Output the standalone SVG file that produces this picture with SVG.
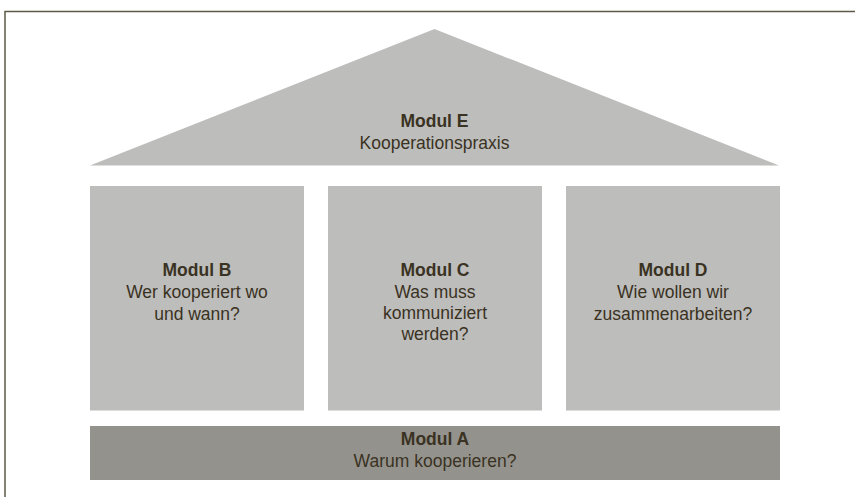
<svg xmlns="http://www.w3.org/2000/svg" width="855" height="497" viewBox="0 0 855 497">
<style>
.t{font-family:"Liberation Sans",Arial,sans-serif;font-size:17.5px;fill:#3a3222;text-anchor:middle}
.b{font-weight:bold}
.light{fill:#bdbdbc}
.dark{fill:#94928d}
</style>
<rect x="0" y="0" width="855" height="497" fill="#ffffff"/>
<rect x="5" y="11.5" width="900" height="600" fill="none" stroke="#5c5a48" stroke-width="1.5"/>
<g id="modulE">
<polygon class="light" points="434.5,29 90,165.5 779,165.5"/>
<text class="t b" x="434.5" y="127">Modul E</text>
<text class="t" x="434.5" y="148.5">Kooperationspraxis</text>
</g>
<g id="modulB">
<rect class="light" x="90" y="186" width="214" height="224.5"/>
<text class="t b" x="197" y="275.5">Modul B</text>
<text class="t" x="197" y="297.5">Wer kooperiert wo</text>
<text class="t" x="197" y="319.5">und wann?</text>
</g>
<g id="modulC">
<rect class="light" x="328" y="186" width="214" height="224.5"/>
<text class="t b" x="435" y="275.5">Modul C</text>
<text class="t" x="435" y="297.5">Was muss</text>
<text class="t" x="435" y="318.5">kommuniziert</text>
<text class="t" x="435" y="339.5">werden?</text>
</g>
<g id="modulD">
<rect class="light" x="566" y="186" width="214" height="224.5"/>
<text class="t b" x="673" y="275.5">Modul D</text>
<text class="t" x="673" y="297.5">Wie wollen wir</text>
<text class="t" x="673" y="319.5">zusammenarbeiten?</text>
</g>
<g id="modulA">
<rect class="dark" x="90" y="426" width="690" height="54"/>
<text class="t b" x="435" y="445">Modul A</text>
<text class="t" x="435" y="467">Warum kooperieren?</text>
</g>
<g id="connectors"/>
</svg>
